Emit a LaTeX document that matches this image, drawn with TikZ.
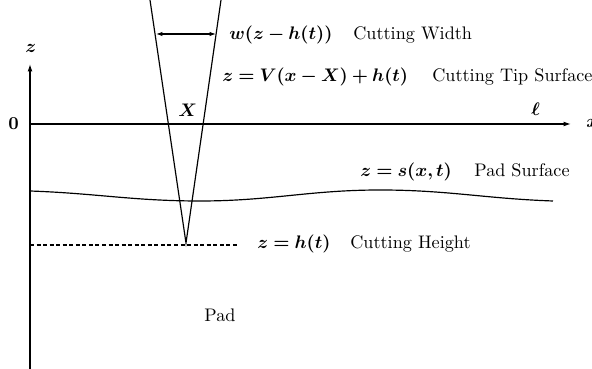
\documentclass[tikz,border=0pt]{standalone}
\usepackage{amsmath}
\usepackage{bm}
\usetikzlibrary{arrows.meta}
\tikzset{
  lnw/.style={line width=0.65pt},
  labl/.style={inner sep=0pt, anchor=base west},
  axarrow/.style={-{Latex[length=4pt,width=2.6pt]}},
  dblarrow/.style={{Latex[length=3.5pt,width=2.4pt]}-{Latex[length=3.5pt,width=2.4pt]}}
}
\begin{document}
\begin{tikzpicture}[x=0.55pt,y=-0.55pt]
\useasboundingbox (0,0) rectangle (592,369);
% axes
\coordinate (zb) at (30,369);
\coordinate (zt) at (30,64);
\coordinate (xl) at (30,124);
\coordinate (xr) at (571,124);
\draw[lnw,axarrow] (zb) -- (zt);
\draw[lnw,axarrow] (xl) -- (xr);
\node[labl] (zlab) at (25,53) {$\bm{z}$};
\node[labl] (zero) at (8,130) {$\bm{0}$};
\node[labl] (xlab) at (586,128) {$\bm{x}$};
\node[labl] (ell) at (531,116) {$\bm{\ell}$};
% pad surface
\coordinate (s0) at (30,191);
\coordinate (s1) at (200,201);
\coordinate (s2) at (380,190);
\coordinate (s3) at (553,201);
\draw[lnw] (s0) to[out=-2,in=180] (s1) to[out=0,in=180] (s2) to[out=0,in=178] (s3);
% cutting height
\coordinate (h0) at (30,245);
\coordinate (h1) at (238,245);
\draw[line width=0.6pt,dash pattern=on 2.2pt off 1.4pt] (h0) -- (h1);
% cutter
\coordinate (cl) at (150,0);
\coordinate (ct) at (186,243);
\coordinate (cr) at (221,0);
\draw[lnw] (cl) -- (ct) -- (cr);
\coordinate (wl) at (156,34);
\coordinate (wr) at (216,34);
\draw[line width=0.6pt,dblarrow] (wl) -- (wr);
\node[labl] (X) at (178,117) {$\bm{X}$};
% labels
\node[labl] (wm) at (229,40) {$\bm{w(z-h(t))}$};
\node[labl] (wt) at (353,40) {Cutting Width};
\node[labl] (vm) at (222,82) {$\bm{z=V(x-X)+h(t)}$};
\node[labl] (vt) at (432,82) {Cutting Tip Surface};
\node[labl] (sm) at (360,177) {$\bm{z=s(x,t)}$};
\node[labl] (st) at (474,177) {Pad Surface};
\node[labl] (hm) at (257,249) {$\bm{z=h(t)}$};
\node[labl] (ht) at (350,249) {Cutting Height};
\node[labl] (pad) at (204,322) {Pad};
\end{tikzpicture}
\end{document}
